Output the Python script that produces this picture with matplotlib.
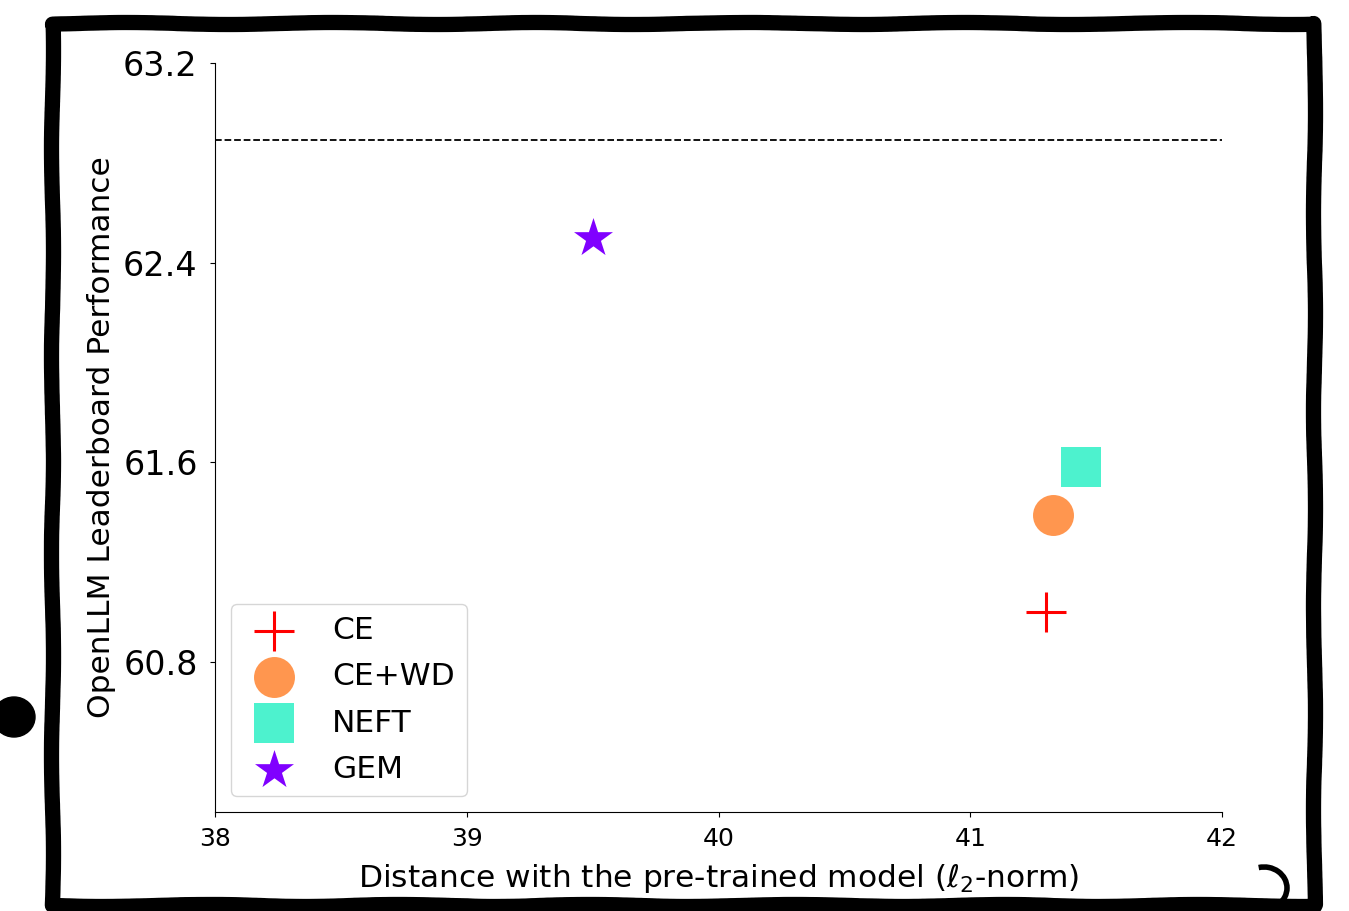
import numpy as np
import matplotlib
matplotlib.use("Agg")
import matplotlib.pyplot as plt
from matplotlib.patches import Rectangle, Ellipse, Arc

# data
methods = ["CE", "CE+WD", "NEFT", "GEM"]
distance = [41.30, 41.33, 41.44, 39.50]
performance = [61.00, 61.39, 61.58, 62.50]
markers = ["+", "o", "s", "*"]
colors = ["#ff0000", "#ff964f", "#4df2ce", "#8000ff"]
baseline = 62.89
yticks = [60.8, 61.6, 62.4, 63.2]
xticks = [38, 39, 40, 41, 42]

fig = plt.figure(figsize=(13.49, 9.11), dpi=100)
ax = fig.add_axes([0.1594, 0.1087, 0.7465, 0.8221])

for name, x, y, m, c in zip(methods, distance, performance, markers, colors):
    lw = 2.2 if m == "+" else 0
    ax.scatter(x, y, s=870, marker=m, color=c, linewidths=lw, label=name)

ax.axhline(baseline, color="black", linestyle="--", linewidth=1.3)

ax.set_xlim(38, 42)
ax.set_ylim(60.2, 63.2)
ax.set_xticks(xticks)
ax.set_yticks(yticks)
ax.tick_params(axis="x", labelsize=18, pad=7)
ax.tick_params(axis="y", labelsize=24, pad=9)
ax.spines["top"].set_visible(False)
ax.spines["right"].set_visible(False)
ax.set_xlabel(r"Distance with the pre-trained model ($\ell_2$-norm)", fontsize=22.5, labelpad=8)
ax.set_ylabel("OpenLLM Leaderboard Performance", fontsize=22.5, labelpad=5)
ax.legend(loc="lower left", fontsize=22.5, labelspacing=0.55, handletextpad=0.85)

# hand-drawn frame round the figure
frame = Rectangle((52 / 1349, 1 - 905 / 911), (1314 - 52) / 1349, (905 - 23) / 911,
                  transform=fig.transFigure, fill=False, edgecolor="black",
                  linewidth=11, joinstyle="round")
frame.set_sketch_params(scale=1.0, length=250, randomness=3)
fig.patches.append(frame)
fig.patches.append(Ellipse((14 / 1349, 1 - 717 / 911), 42 / 1349, 40 / 911,
                           transform=fig.transFigure, color="black"))
fig.patches.append(Arc((1264 / 1349, 1 - 888 / 911), 46 / 1349, 42 / 911,
                       theta1=-100, theta2=100, transform=fig.transFigure,
                       color="black", linewidth=4))

fig.savefig("out.png", dpi=100)
